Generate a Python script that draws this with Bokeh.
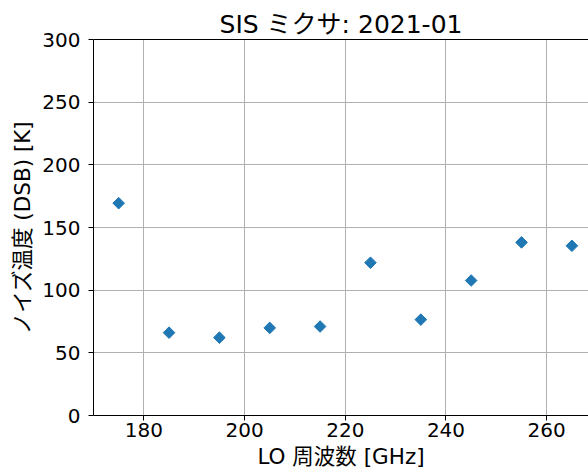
import math
from bokeh.plotting import figure
from bokeh.models import Range1d, LinearAxis, FixedTicker
from bokeh.embed import file_html
from bokeh.resources import INLINE

lo_freq = [175, 185, 195, 205, 215, 225, 235, 245, 255, 265]
noise_temp = [169.4, 66.1, 62.1, 69.9, 71.0, 121.9, 76.5, 107.7, 138.1, 135.4]
x_ticks = [180, 200, 220, 240, 260]
y_ticks = [0, 50, 100, 150, 200, 250, 300]

FONT = "'DejaVu Sans', 'Noto Sans CJK JP', sans-serif"

p = figure(width=588, height=476, output_backend="svg", toolbar_location=None,
           x_range=Range1d(170, 268.3), y_range=Range1d(0, 300),
           min_border_left=93, min_border_right=0, min_border_top=39, min_border_bottom=61,
           title="SIS ミクサ: 2021-01")
p.title.text_font = FONT
p.title.text_font_size = "25px"
p.title.text_font_style = "normal"
p.title.align = "center"
p.title.text_color = "black"
p.title.standoff = 2
p.outline_line_color = None

p.scatter(lo_freq, noise_temp, marker="square", angle=math.pi / 4, size=8.2,
          color="#1f77b4", line_color="#1f77b4")

for ax, ticks in ((p.xaxis[0], x_ticks), (p.yaxis[0], y_ticks)):
    ax.ticker = FixedTicker(ticks=ticks)
    ax.major_label_text_font = FONT
    ax.major_label_text_font_size = "20px"
    ax.major_label_text_color = "black"
    ax.axis_label_text_font = FONT
    ax.axis_label_text_font_size = "21.5px"
    ax.axis_label_text_font_style = "normal"
    ax.axis_label_text_color = "black"
    ax.axis_line_color = "black"
    ax.major_tick_line_color = "black"
    ax.major_tick_out = 5
    ax.major_tick_in = 0
    ax.minor_tick_line_color = None

p.xaxis.axis_label = "LO 周波数 [GHz]"
p.yaxis.axis_label = "ノイズ温度 (DSB) [K]"
p.xaxis.major_label_standoff = 2
p.xaxis.axis_label_standoff = 4
p.yaxis.major_label_standoff = 8
p.yaxis.axis_label_standoff = 4

top = LinearAxis(major_tick_line_color=None, minor_tick_line_color=None,
                 major_label_text_font_size="0px", axis_line_color="black",
                 major_label_standoff=0, axis_label_standoff=0)
top.ticker = FixedTicker(ticks=[])
p.add_layout(top, "above")

p.xgrid.grid_line_color = "#b0b0b0"
p.ygrid.grid_line_color = "#b0b0b0"
p.xgrid.ticker = FixedTicker(ticks=x_ticks)
p.ygrid.ticker = FixedTicker(ticks=y_ticks)

open("out.html", "w").write(file_html(p, INLINE))
